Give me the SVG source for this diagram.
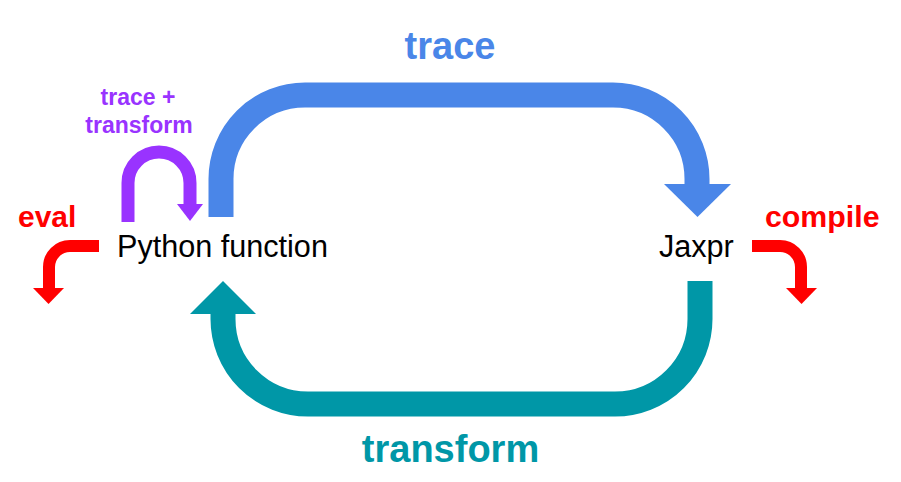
<svg xmlns="http://www.w3.org/2000/svg" width="901" height="482" viewBox="0 0 901 482">
<style>
.lbl{font-family:"Liberation Sans",Arial,Helvetica,sans-serif;font-weight:bold}
.node{font-family:"Liberation Sans",Arial,Helvetica,sans-serif;font-size:30.6px;fill:#000}
.shaft{fill:none;stroke-linecap:butt;stroke-linejoin:miter}
</style>
<rect width="901" height="482" fill="#fff"/>
<g id="connectors">
  <g id="trace-arrow">
    <path class="shaft" d="M221,217 V179 A84 84 0 0 1 305 95 H613 A84 84 0 0 1 697 179 V185" stroke="#4A86E8" stroke-width="25"/>
    <polygon points="664,184 731,184 697.5,217" fill="#4A86E8"/>
    <text class="lbl" x="450" y="59" font-size="38" fill="#4A86E8" text-anchor="middle">trace</text>
  </g>
  <g id="transform-arrow">
    <path class="shaft" d="M700,281 V319 A85 85 0 0 1 615 404 H308 A85 85 0 0 1 223 319 V313" stroke="#0097A7" stroke-width="25"/>
    <polygon points="190,314 256,314 223,281" fill="#0097A7"/>
    <text class="lbl" x="450.5" y="462" font-size="38" fill="#0097A7" text-anchor="middle">transform</text>
  </g>
  <g id="self-arrow">
    <path class="shaft" d="M128,222 V183 A31 31 0 0 1 190 183 V205" stroke="#9933FF" stroke-width="13"/>
    <polygon points="177,204 203,204 190,221" fill="#9933FF"/>
    <text class="lbl" font-size="23" fill="#9933FF" text-anchor="middle"><tspan x="138" y="105">trace +</tspan><tspan x="139" y="133">transform</tspan></text>
  </g>
  <g id="eval-arrow">
    <path class="shaft" d="M99,246 H70 A21 21 0 0 0 49 267 V289" stroke="#FF0000" stroke-width="12"/>
    <polygon points="33,288 64,288 48.5,304" fill="#FF0000"/>
    <text class="lbl" x="18" y="227" font-size="30" fill="#FF0000">eval</text>
  </g>
  <g id="compile-arrow">
    <path class="shaft" d="M752,246 H780 A21 21 0 0 1 801 267 V289" stroke="#FF0000" stroke-width="12"/>
    <polygon points="786,288 817,288 801.5,304" fill="#FF0000"/>
    <text class="lbl" x="765" y="227" font-size="30.3" fill="#FF0000">compile</text>
  </g>
</g>
<g id="python-function">
  <text class="node" x="117" y="257">Python function</text>
</g>
<g id="jaxpr">
  <text class="node" x="659" y="257">Jaxpr</text>
</g>
</svg>
